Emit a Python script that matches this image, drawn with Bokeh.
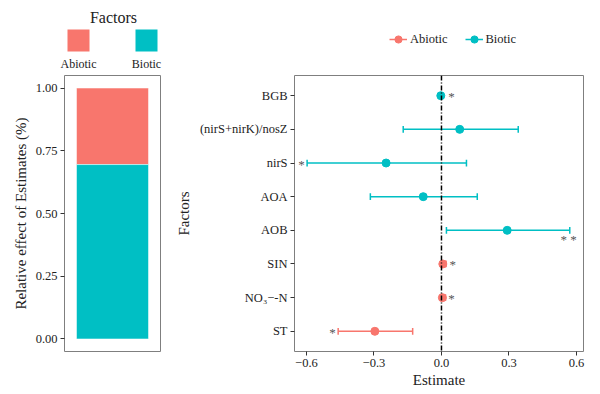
from bokeh.plotting import figure
from bokeh.layouts import row, column
from bokeh.models import Range1d, FixedTicker, Legend, LegendItem, Span, ColumnDataSource
from bokeh.embed import file_html
from bokeh.resources import INLINE
from bokeh.core.properties import value

FONT = "Liberation Serif"
RED = "#F8766D"
TEAL = "#00BFC4"
TXT = "#222222"
BORDER = "#7f7f7f"

# ---------------- data ----------------
groups = ["Abiotic", "Biotic"]
group_colors = [RED, TEAL]
group_share = [0.305, 0.695]          # relative effect of estimates
share_ticks = [0.0, 0.25, 0.5, 0.75, 1.0]
share_tick_labels = ["0.00", "0.25", "0.50", "0.75", "1.00"]

factors = ["ST", "NO₃−-N", "SIN", "AOB", "AOA", "nirS", "(nirS+nirK)/nosZ", "BGB"]
factor_group = ["Abiotic", "Abiotic", "Abiotic", "Biotic", "Biotic", "Biotic", "Biotic", "Biotic"]
estimate = [-0.296, 0.004, 0.006, 0.292, -0.081, -0.246, 0.081, -0.003]
lower = [-0.459, -0.004, -0.002, 0.022, -0.316, -0.597, -0.170, -0.008]
upper = [-0.128, 0.018, 0.020, 0.570, 0.159, 0.111, 0.341, 0.004]
signif = ["*", "*", "*", "* *", "", "*", "", "*"]
star_x = [-0.484, 0.045, 0.05, 0.565, 0.0, -0.622, 0.0, 0.045]
star_dy = [0.0, 0.0, 0.0, -0.25, 0.0, 0.0, 0.0, 0.0]

x_ticks = [-0.6, -0.3, 0.0, 0.3, 0.6]
x_tick_labels = ["−0.6", "−0.3", "0.0", "0.3", "0.6"]

ypos = list(range(1, len(factors) + 1))

# ---------------- header strip with both legends ----------------
top_fig = figure(width=598, height=73, output_backend="svg", toolbar_location=None,
                 x_range=Range1d(0, 598), y_range=Range1d(73, 0),
                 min_border=0, min_border_left=0, min_border_right=0,
                 min_border_top=0, min_border_bottom=0, outline_line_color=None)
top_fig.axis.visible = False
top_fig.grid.visible = False
top_fig.text(x=[113], y=[17], text=["Factors"], text_font=value(FONT), text_font_size="16px",
             text_align="center", text_baseline="middle", text_color=TXT)
key_x = [78, 146]
top_fig.rect(x=key_x, y=[40, 40], width=22, height=22, fill_color=group_colors, line_color=None)
top_fig.text(x=key_x, y=[63, 63], text=groups, text_font=value(FONT), text_font_size="12px",
             text_align="center", text_baseline="middle", text_color=TXT)

items = []
for g, c in zip(groups, group_colors):
    # off-range placeholder renderers: only their legend glyphs are shown
    dummy = ColumnDataSource(dict(x0=[-100], y0=[-100], x1=[-90], y1=[-100]))
    s = top_fig.segment(x0="x0", y0="y0", x1="x1", y1="y1", source=dummy, line_color=c, line_width=1.5)
    d = top_fig.scatter(x="x0", y="y0", source=dummy, size=8, fill_color=c, line_color=c)
    items.append(LegendItem(label=g, renderers=[s, d]))
legend = Legend(items=items, orientation="horizontal", location=(389, 25),
                label_text_font=FONT, label_text_font_size="12.5px", label_text_color=TXT,
                glyph_width=18, glyph_height=18, label_standoff=3, spacing=17,
                padding=0, margin=0, background_fill_alpha=0, border_line_color=None)
top_fig.add_layout(legend)

# ---------------- left stacked bar ----------------
bot = [group_share[1], 0.0]
top = [1.0, group_share[1]]
pl = figure(width=170, height=319, output_backend="svg", toolbar_location=None,
            x_range=Range1d(0.4, 1.6), y_range=Range1d(-0.05, 1.05),
            frame_width=96, frame_height=276,
            min_border_left=64, min_border_right=10, min_border_top=2, min_border_bottom=41)
pl.vbar(x=[1, 1], width=0.9, bottom=bot, top=top, fill_color=group_colors,
        line_color="white", line_width=0.5)
pl.xaxis.visible = False
pl.grid.visible = False
pl.outline_line_color = BORDER
pl.yaxis.ticker = FixedTicker(ticks=share_ticks)
pl.yaxis.major_label_overrides = dict(zip(share_ticks, share_tick_labels))
pl.yaxis.axis_label = "Relative effect of Estimates (%)"

# ---------------- right forest plot ----------------
pr = figure(width=428, height=319, output_backend="svg", toolbar_location=None,
            x_range=Range1d(-0.653, 0.631), y_range=Range1d(0.4, 8.6),
            frame_width=289, frame_height=276,
            min_border_left=124, min_border_right=15, min_border_top=2, min_border_bottom=41)
pr.grid.visible = False
pr.outline_line_color = BORDER

for g, c in zip(groups, group_colors):
    idx = [i for i, fg in enumerate(factor_group) if fg == g]
    src = ColumnDataSource(dict(
        y=[ypos[i] for i in idx],
        ylo=[ypos[i] - 0.1 for i in idx],
        yhi=[ypos[i] + 0.1 for i in idx],
        est=[estimate[i] for i in idx],
        lo=[lower[i] for i in idx],
        hi=[upper[i] for i in idx],
    ))
    pr.segment(x0="lo", y0="y", x1="hi", y1="y", source=src, line_color=c, line_width=1.5)
    pr.segment(x0="lo", y0="ylo", x1="lo", y1="yhi", source=src, line_color=c, line_width=1.5)
    pr.segment(x0="hi", y0="ylo", x1="hi", y1="yhi", source=src, line_color=c, line_width=1.5)
    pr.scatter(x="est", y="y", source=src, size=8, fill_color=c, line_color=c)

sy = [ypos[i] + star_dy[i] for i in range(len(factors))]
pr.text(x=star_x, y=sy, text=signif, text_font=value(FONT), text_font_size="13px",
        text_align="center", text_baseline="middle", text_color="#555555", y_offset=1)

pr.add_layout(Span(location=0, dimension="height", line_color="black",
                   line_dash="5 2 1 2", line_width=1.5))

for ax in (pl.yaxis, pr.xaxis, pr.yaxis):
    ax.minor_tick_line_color = None
    ax.axis_line_color = None
    ax.major_tick_in = 0
    ax.major_tick_out = 4
    ax.major_tick_line_color = "#333333"
    ax.major_label_text_font = FONT
    ax.major_label_text_font_size = "12.5px"
    ax.major_label_text_color = TXT
    ax.major_label_standoff = 3
    ax.axis_label_text_font = FONT
    ax.axis_label_text_font_size = "15px"
    ax.axis_label_text_font_style = "normal"
    ax.axis_label_text_color = TXT

pl.yaxis.axis_label_standoff = 4
pr.xaxis.ticker = FixedTicker(ticks=x_ticks)
pr.xaxis.major_label_overrides = dict(zip(x_ticks, x_tick_labels))
pr.xaxis.axis_label = "Estimate"
pr.xaxis.axis_label_standoff = 2
pr.yaxis.ticker = FixedTicker(ticks=ypos)
pr.yaxis.major_label_overrides = dict(zip(ypos, factors))
pr.yaxis.axis_label = "Factors"
pr.yaxis.axis_label_standoff = 5

layout = column(top_fig, row(pl, pr, spacing=0), spacing=0)
open("out.html", "w").write(file_html(layout, INLINE))
